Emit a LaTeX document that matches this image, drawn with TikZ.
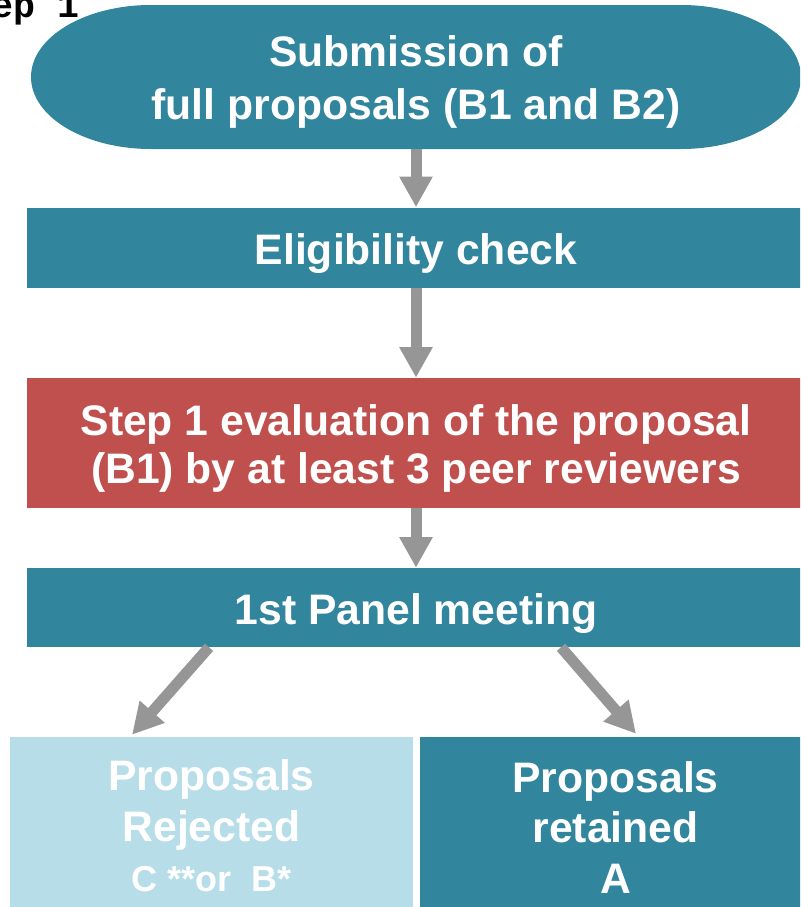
\documentclass[tikz,border=0pt]{standalone}
\usepackage{fontspec}
\setmainfont{Liberation Sans}
\newfontfamily\stepfont{Liberation Mono}
\usetikzlibrary{arrows.meta,calc}
\definecolor{tealbox}{HTML}{31859C}
\definecolor{redbox}{HTML}{C0504D}
\definecolor{lightbox}{HTML}{B7DEE8}
\definecolor{arrowgray}{HTML}{969696}
\begin{document}
\begin{tikzpicture}[x=0.75pt,y=-0.75pt,
  boxtxt/.style={text=white, font=\bfseries\fontsize{32}{37}\selectfont, align=center, inner sep=0pt},
  flowbox/.style={fill=tealbox, minimum width=583.5pt, inner sep=0pt},
  arr/.style={draw=arrowgray, line width=8.25pt, -{Triangle[width=23.5pt,length=23pt]}}]
\useasboundingbox (0,0) rectangle (800,907);
\clip (0,0) rectangle (800,907);
% top stadium shape
\fill[tealbox] (151,5) -- (681,5) arc[start angle=90,end angle=-90,x radius=90pt,y radius=54pt]
  -- (151,149) arc[start angle=270,end angle=90,x radius=90pt,y radius=54pt] -- cycle;
\node[inner sep=0pt, minimum width=577.5pt, minimum height=108pt,
  label={[boxtxt, font=\bfseries\fontsize{32}{40}\selectfont, yshift=-3.75pt]center:{Submission of\\full proposals (B1 and B2)}}] (sub) at (416,77) {};
\node[flowbox, minimum height=60pt,
  label={[boxtxt, yshift=-4.5pt]center:{Eligibility check}}] (elig) at (416,247.5) {};
\node[flowbox, fill=redbox, minimum height=97.5pt,
  label={[boxtxt, font=\bfseries\fontsize{32}{36}\selectfont, yshift=-3.75pt]center:{Step 1 evaluation of the proposal\\(B1) by at least 3 peer reviewers}}] (eval) at (416,443) {};
\node[flowbox, minimum height=59.25pt,
  label={[boxtxt, yshift=-4.5pt]center:{1st Panel meeting}}] (panel) at (416,607.5) {};
\node[fill=lightbox, inner sep=0pt, minimum width=302.25pt, minimum height=131.25pt,
  label={[boxtxt, font=\bfseries\fontsize{32}{38}\selectfont, yshift=-1pt]center:{Proposals\\Rejected\\{\fontsize{27}{33}\selectfont C **or\ \ B*}}}] (rej) at (211.5,824.5) {};
\node[fill=tealbox, inner sep=0pt, minimum width=293.25pt, minimum height=131.25pt,
  label={[boxtxt, font=\bfseries\fontsize{32}{38}\selectfont, yshift=-2.25pt]center:{Proposals\\retained\\A}}] (ret) at (615.5,824.5) {};
\node[anchor=base west, inner sep=0pt, font=\stepfont\bfseries\fontsize{27.5}{30}\selectfont] (steplbl) at (-53,17) {Step 1};
% connectors
\draw[arr] (sub.south) -- (elig.north);
\draw[arr] (elig.south) -- (eval.north);
\draw[arr] (eval.south) -- (panel.north);
\coordinate (pls) at ($(panel.south)+(-207,0)$);
\coordinate (plt) at ($(rej.north)+(-79.5,-2)$);
\coordinate (prs) at ($(panel.south)+(145,0)$);
\coordinate (prt) at ($(ret.north)+(20.5,-3)$);
\draw[arr] (pls) -- (plt);
\draw[arr] (prs) -- (prt);
\end{tikzpicture}
\end{document}
